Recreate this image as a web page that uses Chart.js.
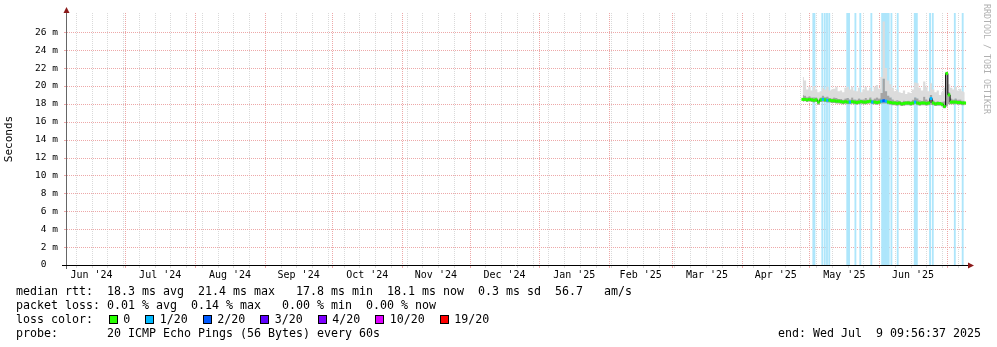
<!DOCTYPE html>
<html>
<head>
<meta charset="utf-8">
<title>smokeping</title>
<script src="https://cdn.jsdelivr.net/npm/chart.js@4.4.1/dist/chart.umd.min.js"></script>
<style>
  body { margin: 0; background: #fff; }
  #wrap { position: relative; width: 997px; height: 347px; font-family: "DejaVu Sans Mono", monospace; overflow: hidden; }
  #chart { position: absolute; left: 0; top: 0; }
  .txt { position: absolute; font-size: 11.63px; line-height: 14px; white-space: pre; color: #000; }
  #legend { position: absolute; left: 108.7px; top: 312px; display: flex; align-items: center; height: 14px; }
  #legend .sw { width: 7px; height: 7px; border: 1px solid #000; margin-right: 5.5px; }
  #legend .lb { font-size: 11.63px; line-height: 14px; white-space: pre; margin-right: 15px; }
  #credit { position: absolute; left: 982px; top: 4px; writing-mode: vertical-rl; font-size: 8.3px; color: #b0b0b0; }
</style>
</head>
<body>
<div id="wrap">
  <canvas id="chart" width="997" height="347"></canvas>
  <div id="credit">RRDTOOL / TOBI OETIKER</div>
  <div class="txt" style="left:16px;top:284px">median rtt:  18.3 ms avg  21.4 ms max   17.8 ms min  18.1 ms now  0.3 ms sd  56.7   am/s</div>
  <div class="txt" style="left:16px;top:298px">packet loss: 0.01 % avg  0.14 % max   0.00 % min  0.00 % now</div>
  <div class="txt" style="left:16px;top:312px">loss color:</div>
  <div id="legend"></div>
  <div class="txt" style="left:16px;top:326px">probe:       20 ICMP Echo Pings (56 Bytes) every 60s</div>
  <div class="txt" style="left:778px;top:326px">end: Wed Jul  9 09:56:37 2025</div>
</div>
<script>
// visible time range of the graph
const viewStart = '2024-06-05T02:10';
const viewEnd = '2025-07-10T00:00';

// month grid and labels
const monthStarts = ['2024-06-01', '2024-07-01', '2024-08-01', '2024-09-01', '2024-10-01', '2024-11-01', '2024-12-01',
  '2025-01-01', '2025-02-01', '2025-03-01', '2025-04-01', '2025-05-01', '2025-06-01', '2025-07-01'];
const monthLabels = ["Jun '24", "Jul '24", "Aug '24", "Sep '24", "Oct '24", "Nov '24", "Dec '24",
  "Jan '25", "Feb '25", "Mar '25", "Apr '25", "May '25", "Jun '25"];

// y axis (ms)
const yMajorTicks = [0, 2, 4, 6, 8, 10, 12, 14, 16, 18, 20, 22, 24, 26];
const yTickLabels = ['0  ', '2 m', '4 m', '6 m', '8 m', '10 m', '12 m', '14 m', '16 m', '18 m', '20 m', '22 m', '24 m', '26 m'];

// one sample per day starting here
const dataStart = '2025-04-28';

const medianRtt = [
  18.5, 18.5, 18.45, 18.5, 18.45, 18.4, 18.45, 18.2, 18.45, 18.5,
  18.45, 18.4, 18.4, 18.35, 18.35, 18.3, 18.3, 18.25, 18.2, 18.25,
  18.2, 18.2, 18.25, 18.2, 18.15, 18.2, 18.25, 18.2, 18.2, 18.25,
  18.3, 18.2, 18.2, 18.15, 18.2, 18.3, 18.35, 18.3, 18.2, 18.15,
  18.1, 18.1, 18.05, 18.1, 18.0, 18.05, 18.1, 18.1, 18.05, 18.1,
  18.2, 18.1, 18.05, 18.1, 18.1, 18.05, 18.1, 18.6, 18.1, 18.0,
  18.05, 18.05, 17.95, 17.7, 21.4, 19.0, 18.2, 18.2, 18.2, 18.15,
  18.15, 18.1, 18.1
];

// lost pings (of 20) for each median sample
const medianLoss = [
  0, 0, 0, 0, 0, 0, 0, 0, 0, 1,
  0, 1, 0, 0, 0, 0, 0, 0, 0, 0,
  0, 1, 0, 0, 0, 0, 0, 0, 0, 0,
  0, 1, 0, 0, 0, 1, 2, 1, 0, 0,
  0, 0, 0, 0, 0, 0, 0, 0, 0, 0,
  1, 0, 0, 0, 0, 0, 0, 1, 0, 0,
  0, 0, 0, 0, 0, 0, 0, 0, 0, 0,
  0, 0, 0
];

// smoke: slowest ping, upper dense band, fastest ping
const smokeMax = [
  21.0, 20.6, 19.6, 19.9, 19.5, 20.0, 19.6, 19.3, 19.4, 19.8,
  19.6, 19.9, 19.5, 19.6, 19.7, 19.9, 19.4, 19.5, 19.3, 19.8,
  19.9, 19.6, 19.9, 19.5, 19.4, 19.8, 19.3, 19.6, 19.9, 19.5,
  19.8, 19.4, 19.9, 20.1, 19.7, 21.0, 27.2, 22.0, 20.6, 20.2,
  19.8, 19.4, 19.6, 19.3, 19.2, 19.5, 19.1, 19.3, 19.2, 19.6,
  20.4, 20.3, 19.8, 19.5, 20.5, 19.9, 19.4, 20.3, 19.6, 19.3,
  19.5, 19.0, 19.3, 19.8, 21.6, 20.2, 19.8, 19.6, 19.9, 19.5,
  19.7, 19.4, 19.3
];
const smokeHigh = [
  19.0, 18.9, 18.75, 18.85, 18.7, 18.7, 18.7, 18.5, 18.7, 18.9,
  18.75, 18.8, 18.65, 18.6, 18.7, 18.65, 18.55, 18.55, 18.45, 18.6,
  18.65, 18.5, 18.7, 18.5, 18.45, 18.6, 18.5, 18.5, 18.65, 18.5,
  18.7, 18.45, 18.6, 18.7, 18.6, 19.2, 20.8, 19.4, 18.9, 18.7,
  18.5, 18.35, 18.4, 18.35, 18.25, 18.35, 18.3, 18.35, 18.3, 18.45,
  18.7, 18.6, 18.4, 18.35, 18.8, 18.5, 18.35, 19.0, 18.4, 18.25,
  18.3, 18.2, 18.25, 18.3, 21.5, 19.3, 18.6, 18.5, 18.6, 18.45,
  18.5, 18.35, 18.35
];
const smokeMin = [
  18.25, 18.3, 18.2, 18.3, 18.2, 18.15, 18.2, 17.9, 18.2, 18.25,
  18.2, 18.15, 18.15, 18.1, 18.1, 18.05, 18.05, 18.0, 17.95, 18.0,
  17.95, 17.95, 18.0, 17.95, 17.9, 17.95, 18.0, 17.95, 17.95, 18.0,
  18.05, 17.95, 17.95, 17.9, 17.95, 18.05, 18.05, 18.05, 17.95, 17.9,
  17.85, 17.85, 17.8, 17.85, 17.75, 17.8, 17.85, 17.85, 17.8, 17.85,
  17.95, 17.85, 17.8, 17.85, 17.85, 17.8, 17.85, 17.9, 17.85, 17.75,
  17.8, 17.8, 17.7, 17.5, 17.7, 17.95, 17.95, 17.95, 17.95, 17.9,
  17.9, 17.85, 17.85
];

// graph samples with packet loss (background bars)
const lossPeriods = [
  '2025-05-02T17:00', '2025-05-03T05:00',
  '2025-05-06T17:00', '2025-05-07T19:00', '2025-05-08T19:00', '2025-05-09T19:00',
  '2025-05-17T19:00', '2025-05-18T05:00', '2025-05-18T14:00',
  '2025-05-21T10:00', '2025-05-23T14:00', '2025-05-28T12:00',
  '2025-06-02T07:00', '2025-06-02T17:00', '2025-06-03T05:00', '2025-06-03T14:00', '2025-06-04T02:00', '2025-06-04T12:00',
  '2025-06-05T05:00', '2025-06-06T10:00', '2025-06-09T05:00',
  '2025-06-16T19:00', '2025-06-17T05:00', '2025-06-17T17:00',
  '2025-06-23T14:00', '2025-06-24T19:00',
  '2025-07-04T14:00', '2025-07-08T02:00'
];

const lossColors = { 0: '#26ff00', 1: '#00b8ff', 2: '#0059ff', 3: '#5e00ff', 4: '#7e00ff', 10: '#dd00ff', 19: '#ff0000' };
const lossLegend = ['0', '1/20', '2/20', '3/20', '4/20', '10/20', '19/20'];
const lossLegendKeys = [0, 1, 2, 3, 4, 10, 19];

const FONT = '"DejaVu Sans Mono", monospace';
const DAY = 86400000;

function toDay(s) {
  return Date.parse(s.length === 10 ? s + 'T00:00:00Z' : s + ':00Z') / DAY;
}

// legend row
const legendEl = document.getElementById('legend');
lossLegendKeys.forEach((k, i) => {
  const sw = document.createElement('span');
  sw.className = 'sw';
  sw.style.background = lossColors[k];
  const lb = document.createElement('span');
  lb.className = 'lb';
  lb.textContent = lossLegend[i];
  legendEl.appendChild(sw);
  legendEl.appendChild(lb);
});

const xMin = toDay(viewStart);
const xMax = toDay(viewEnd);

// x ticks: weekly minor grid (sundays), month grid, mid-month labels
const xTickInfo = new Map();
function addTick(v, props) {
  xTickInfo.set(v, Object.assign(xTickInfo.get(v) || {}, props));
}
let sunday = Math.ceil(xMin);
while (new Date(sunday * DAY).getUTCDay() !== 0) sunday++;
for (let d = sunday; d <= xMax; d += 7) addTick(d, { grid: 'minor' });
for (let i = 0; i < monthLabels.length; i++) {
  const s = toDay(monthStarts[i]);
  const e = toDay(monthStarts[i + 1]);
  if (s >= xMin && s <= xMax) addTick(s, { grid: 'major' });
  if (e >= xMin && e <= xMax) addTick(e, { grid: 'major' });
  const mid = (s + e) / 2;
  if (mid >= xMin && mid <= xMax) addTick(mid, { label: monthLabels[i] });
}
const xTickValues = [...xTickInfo.keys()].sort((a, b) => a - b);

const yGridValues = [];
for (let v = 0; v <= 27; v++) yGridValues.push(v);

const t0 = toDay(dataStart);
const pts = arr => arr.map((v, i) => ({ x: t0 + i, y: v }));

const MAJOR = '#eda8a8';
const MINOR = '#dadada';

// dotted rrdtool-style grid at the tick positions of each scale
const dottedGrid = {
  id: 'dottedGrid',
  beforeDatasetsDraw(chart) {
    const { ctx, chartArea: a, scales } = chart;
    const line = (x1, y1, x2, y2, color, dash) => {
      ctx.strokeStyle = color;
      ctx.setLineDash(dash);
      ctx.beginPath();
      ctx.moveTo(x1, y1);
      ctx.lineTo(x2, y2);
      ctx.stroke();
    };
    ctx.save();
    ctx.lineWidth = 1;
    scales.x.ticks.forEach(t => {
      const kind = (xTickInfo.get(t.value) || {}).grid;
      if (!kind) return;
      const px = Math.round(scales.x.getPixelForValue(t.value)) + 0.5;
      const c = kind === 'major' ? MAJOR : MINOR;
      line(px, a.top, px, a.bottom, c, [1, 1]);
      line(px, a.bottom, px, a.bottom + 3, c, []);
    });
    scales.y.ticks.forEach(t => {
      if (t.value === 0) return;
      const py = Math.round(scales.y.getPixelForValue(t.value)) + 0.5;
      const c = t.value % 2 === 0 ? MAJOR : MINOR;
      line(a.left, py, a.right, py, c, [1, 1]);
      line(a.left - 3, py, a.left, py, c, []);
    });
    ctx.restore();
  }
};

const axisArrows = {
  id: 'axisArrows',
  afterDraw(chart) {
    const { ctx, chartArea: a } = chart;
    ctx.save();
    ctx.lineWidth = 1;
    ctx.strokeStyle = '#666';
    ctx.beginPath();
    ctx.moveTo(a.left - 0.5, a.top - 2);
    ctx.lineTo(a.left - 0.5, a.bottom + 4);
    ctx.stroke();
    ctx.strokeStyle = '#000';
    ctx.beginPath();
    ctx.moveTo(a.left - 5, a.bottom + 0.5);
    ctx.lineTo(a.right + 2, a.bottom + 0.5);
    ctx.stroke();
    ctx.fillStyle = '#8b1a1a';
    ctx.beginPath();
    ctx.moveTo(a.left - 3.5, a.top);
    ctx.lineTo(a.left + 2.5, a.top);
    ctx.lineTo(a.left - 0.5, a.top - 6);
    ctx.closePath();
    ctx.fill();
    ctx.beginPath();
    ctx.moveTo(a.right + 1, a.bottom - 2.5);
    ctx.lineTo(a.right + 1, a.bottom + 3.5);
    ctx.lineTo(a.right + 7, a.bottom + 0.5);
    ctx.closePath();
    ctx.fill();
    ctx.restore();
  }
};

new Chart(document.getElementById('chart'), {
  type: 'line',
  data: {
    datasets: [
      {
        type: 'bar',
        label: 'loss',
        data: lossPeriods.map(s => ({ x: toDay(s), y: 1 })),
        yAxisID: 'yLoss',
        backgroundColor: '#aee6fb',
        barThickness: 1.2,
        order: 6
      },
      {
        label: 'smoke max',
        data: pts(smokeMax),
        borderWidth: 0,
        pointRadius: 0,
        stepped: 'middle',
        fill: '+1',
        backgroundColor: '#dcdcdc',
        order: 5
      },
      {
        label: 'smoke high',
        data: pts(smokeHigh),
        borderWidth: 0,
        pointRadius: 0,
        stepped: 'middle',
        fill: '+1',
        backgroundColor: '#a4a4a4',
        order: 4
      },
      {
        label: 'smoke min',
        data: pts(smokeMin),
        borderWidth: 0,
        pointRadius: 0,
        stepped: 'middle',
        fill: false,
        order: 3
      },
      {
        label: 'median step',
        data: pts(medianRtt),
        borderColor: '#000',
        borderWidth: 1,
        pointRadius: 0,
        stepped: 'middle',
        fill: false,
        order: 2
      },
      {
        label: 'median',
        data: pts(medianRtt),
        showLine: false,
        pointStyle: 'line',
        pointRadius: 1.3,
        pointBorderWidth: 3,
        pointBorderColor: medianLoss.map(l => lossColors[l]),
        pointBackgroundColor: medianLoss.map(l => lossColors[l]),
        order: 1
      }
    ]
  },
  options: {
    responsive: false,
    animation: false,
    devicePixelRatio: 1,
    events: [],
    layout: { padding: { top: 13, right: 30, left: 0, bottom: 0 } },
    plugins: { legend: { display: false }, tooltip: { enabled: false } },
    scales: {
      x: {
        type: 'linear',
        min: xMin,
        max: xMax,
        offset: false,
        afterBuildTicks: s => { s.ticks = xTickValues.map(v => ({ value: v })); },
        afterFit: s => { s.height = 82; },
        ticks: {
          autoSkip: false,
          maxRotation: 0,
          minRotation: 0,
          padding: 1,
          color: '#000',
          font: { family: FONT, size: 10 },
          callback: v => (xTickInfo.get(v) || {}).label || ''
        },
        grid: { display: true, drawOnChartArea: false, color: 'rgba(0,0,0,0)', tickLength: 3 },
        border: { display: false }
      },
      y: {
        type: 'linear',
        position: 'left',
        min: 0,
        max: 28.15,
        afterBuildTicks: s => { s.ticks = yGridValues.map(v => ({ value: v })); },
        afterFit: s => { s.width = 67; },
        ticks: {
          padding: 6,
          color: '#000',
          font: { family: FONT, size: 9.5 },
          callback: v => {
            const i = yMajorTicks.indexOf(v);
            return i >= 0 ? yTickLabels[i] : '';
          }
        },
        grid: { display: true, drawOnChartArea: false, color: 'rgba(0,0,0,0)', tickLength: 3 },
        border: { display: false },
        title: {
          display: true,
          text: 'Seconds',
          color: '#000',
          font: { family: FONT, size: 11 },
          padding: { top: 3, bottom: 0 }
        }
      },
      yLoss: {
        type: 'linear',
        display: false,
        min: 0,
        max: 1
      }
    }
  },
  plugins: [dottedGrid, axisArrows]
});
</script>
</body>
</html>
